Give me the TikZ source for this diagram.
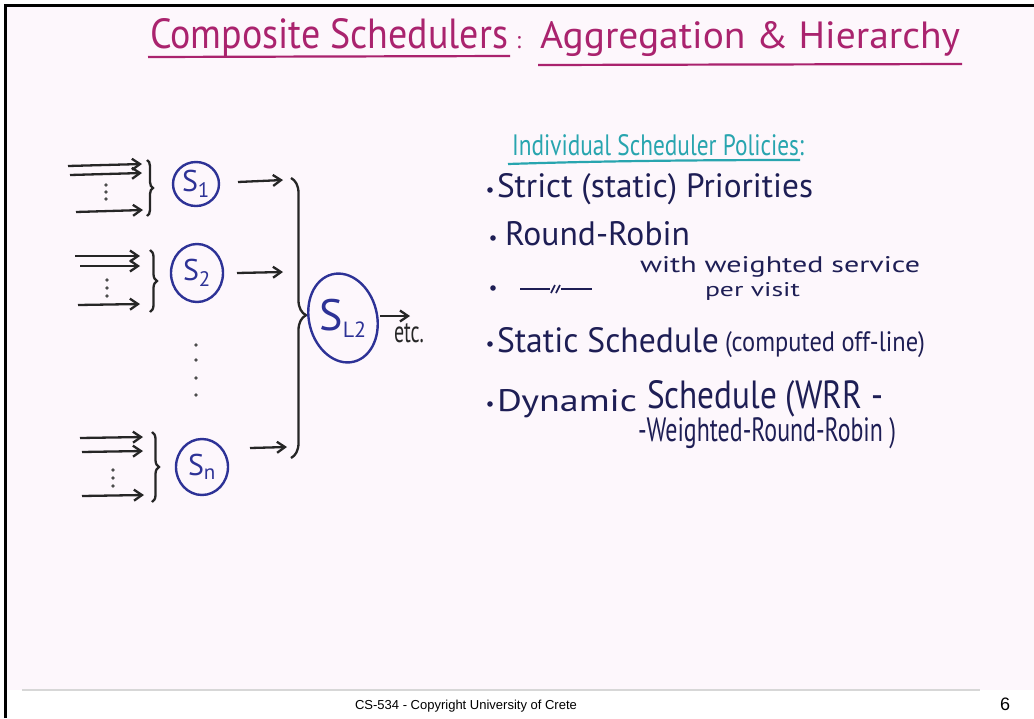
\documentclass[tikz,border=0pt]{standalone}
\usepackage{fontspec}
\setmainfont{PT Sans}
\newfontfamily\footfont{Liberation Sans}
\usetikzlibrary{arrows.meta,decorations.pathreplacing,shapes.geometric}
\definecolor{titlec}{RGB}{170,35,110}
\definecolor{headc}{RGB}{40,165,175}
\definecolor{bodyc}{RGB}{30,30,85}
\definecolor{nodec}{RGB}{45,50,150}
\definecolor{slidebg}{RGB}{253,247,252}
\definecolor{footline}{RGB}{215,215,215}
\newcommand{\fitbox}[3]{\resizebox{#1pt}{#2pt}{#3}}
\begin{document}
\begin{tikzpicture}[x=1pt,y=-1pt,
  txt/.style={anchor=base west,inner sep=0pt,outer sep=0pt},
  sched/.style={draw=nodec,text=nodec,ellipse,line width=2.4pt,inner sep=0pt,font=\fontsize{30}{30}\selectfont},
  arr/.style={draw=black!85,line width=2.3pt,-{Straight Barb[length=8pt,width=11pt]}},
  brc/.style={draw=black!85,line width=2.3pt,decorate,decoration={brace,amplitude=#1}},
  brc/.default=6pt,
  dot/.style={fill=black!70},
  bul/.style={fill=bodyc}
]
\useasboundingbox (0,0) rectangle (1034,718);
\fill[white] (0,0) rectangle (1034,718);
\fill[slidebg] (6,6) rectangle (1034,690);
\draw[footline,line width=1.5pt] (22,690) -- (980,690);
\draw[black,line width=3pt] (5,718) -- (5,5) -- (1034,5);

% title
\node[txt,text=titlec] (t1) at (150,48) {\fitbox{358}{30}{Composite Schedulers}};
\node[txt,text=titlec] (tc) at (516,48) {\fitbox{5}{12}{:}};
\node[txt,text=titlec] (t2) at (540,48) {\fitbox{420}{27}{Aggregation \& Hierarchy}};
\draw[titlec,line width=2.2pt] (148,57) -- (510,56);
\draw[titlec,line width=2.2pt] (538,65) -- (962,64);

% group 1
\coordinate (a1s) at (68,166); \coordinate (a1e) at (142,164);
\coordinate (a2s) at (70,175); \coordinate (a2e) at (142,173);
\coordinate (a3s) at (76,212); \coordinate (a3e) at (143,210);
\draw[arr] (a1s) -- (a1e); \draw[arr] (a2s) -- (a2e); \draw[arr] (a3s) -- (a3e);
\foreach \y in {185,192,199} \fill[dot] (106,\y) circle (1.9);
\coordinate (b1t) at (147,160); \coordinate (b1b) at (147,216);
\draw[brc=6pt] (b1t) -- (b1b);
\node[sched,minimum width=46pt,minimum height=44pt] (s1) at (196,184) {S\textsubscript{1}};
\coordinate (o1s) at (238,182); \coordinate (o1e) at (283,180);
\draw[arr] (o1s) -- (o1e);

% group 2
\coordinate (c1s) at (75,256); \coordinate (c1e) at (140,256);
\coordinate (c2s) at (80,266); \coordinate (c2e) at (140,266);
\coordinate (c3s) at (78,305); \coordinate (c3e) at (140,304);
\draw[arr] (c1s) -- (c1e); \draw[arr] (c2s) -- (c2e); \draw[arr] (c3s) -- (c3e);
\foreach \y in {280,288,296} \fill[dot] (107,\y) circle (1.9);
\coordinate (b2t) at (150,250); \coordinate (b2b) at (150,312);
\draw[brc=7pt] (b2t) -- (b2b);
\node[sched,minimum width=52pt,minimum height=58pt] (s2) at (197,273) {S\textsubscript{2}};
\coordinate (o2s) at (237,273); \coordinate (o2e) at (283,272);
\draw[arr] (o2s) -- (o2e);

% middle dots
\foreach \y in {345,360,378,395} \fill[dot] (196,\y) circle (1.9);

% group n
\coordinate (d1s) at (80,438); \coordinate (d1e) at (143,437);
\coordinate (d2s) at (82,452); \coordinate (d2e) at (143,451);
\coordinate (d3s) at (82,496); \coordinate (d3e) at (144,495);
\draw[arr] (d1s) -- (d1e); \draw[arr] (d2s) -- (d2e); \draw[arr] (d3s) -- (d3e);
\foreach \y in {470,478,486} \fill[dot] (113,\y) circle (1.9);
\coordinate (bnt) at (152,432); \coordinate (bnb) at (152,502);
\draw[brc=7pt] (bnt) -- (bnb);
\node[sched,minimum width=52pt,minimum height=56pt] (sn) at (202,467) {S\textsubscript{n}};
\coordinate (ons) at (250,448); \coordinate (one) at (287,447);
\draw[arr] (ons) -- (one);

% big brace and level-2 scheduler
\coordinate (bbt) at (291,178); \coordinate (bbb) at (291,458);
\draw[brc=15pt,decoration={aspect=0.49}] (bbt) -- (bbb);
\node[draw=nodec,ellipse,line width=2.4pt,inner sep=0pt,minimum width=68pt,minimum height=90pt,rotate=14] (sl2) at (343,318) {};
\node[text=nodec,inner sep=0pt,font=\fontsize{44}{44}\selectfont] (sl2lab) at (sl2.center) {S\textsubscript{\fontsize{22}{22}\selectfont L2}};
\coordinate (ets) at (380,316); \coordinate (ete) at (410,316);
\draw[arr] (ets) -- (ete);
\node[txt,text=black!85] (etc) at (394,342) {\fitbox{30}{19}{etc.}};

% right column
\node[txt,text=headc] (h) at (512,155) {\fitbox{292}{21}{Individual Scheduler Policies:}};
\draw[headc,line width=2.2pt] (508,164) .. controls (600,161) and (700,160) .. (800,160);

\fill[bul] (490,190) circle (2.8);
\node[txt,text=bodyc] (p1) at (497,197) {\fitbox{316}{24}{Strict (static) Priorities}};
\fill[bul] (493,238) circle (2.8);
\node[txt,text=bodyc] (p2) at (505,245) {\fitbox{185}{24}{Round-Robin}};
\fill[bul] (493,288) circle (2.8);
\draw[bodyc,line width=2.2pt] (520,289) -- (550,289);
\draw[bodyc,line width=1.6pt] (551,293) -- (555,285) (556,293) -- (560,285);
\draw[bodyc,line width=2.2pt] (561,289) -- (592,289);
\node[txt,text=bodyc] (p3a) at (640,272) {\fitbox{280}{16}{with weighted service}};
\node[txt,text=bodyc] (p3b) at (705,296) {\fitbox{95}{14}{per visit}};
\fill[bul] (490,344) circle (2.8);
\node[txt,text=bodyc] (p4a) at (497,352) {\fitbox{222}{25}{Static Schedule}};
\node[txt,text=bodyc] (p4b) at (725,351) {\fitbox{200}{20}{(computed off-line)}};
\fill[bul] (490,404) circle (2.8);
\node[txt,text=bodyc] (p5a) at (497,411) {\fitbox{140}{22}{Dynamic}};
\node[txt,text=bodyc] (p5b) at (647,408) {\fitbox{236}{28}{Schedule (WRR -}};
\node[txt,text=bodyc] (p5c) at (638,441) {\fitbox{258}{24}{-Weighted-Round-Robin )}};

% footer
\node[anchor=base,inner sep=0pt,font=\footfont\fontsize{13}{13}\selectfont] (foot) at (466,709) {CS-534 - Copyright University of Crete};
\node[anchor=base,inner sep=0pt,font=\footfont\fontsize{18}{18}\selectfont] (pg) at (1005,710) {6};
\end{tikzpicture}
\end{document}
